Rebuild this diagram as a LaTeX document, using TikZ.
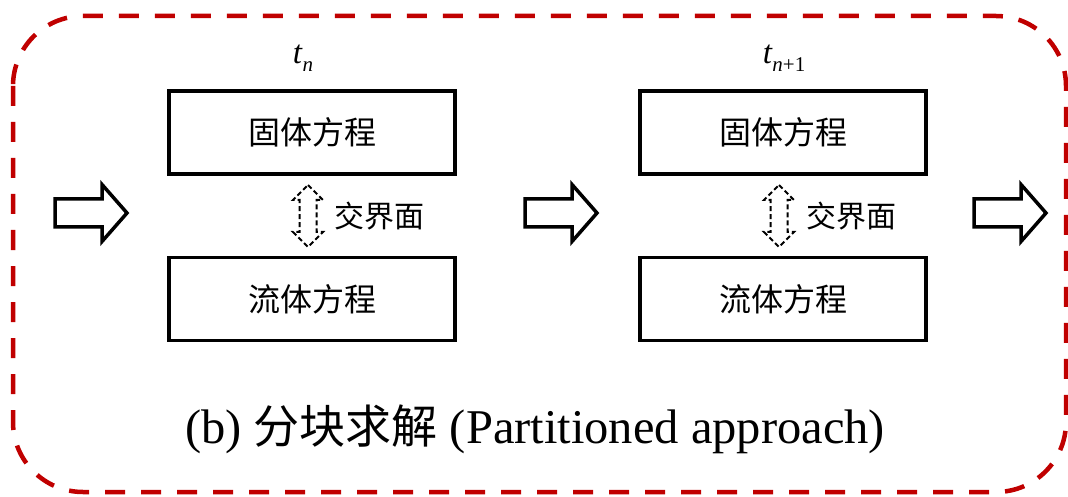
\documentclass[tikz,border=0pt]{standalone}
\usepackage{fontspec}
\setmainfont{Liberation Serif}
\newfontfamily\cjk{Noto Sans CJK SC}
\definecolor{framered}{RGB}{192,0,0}
\begin{document}
\begin{tikzpicture}[x=1pt,y=-1pt,
  eqbox/.style={draw, line width=3.5pt, minimum width=286pt, minimum height=83pt,
    inner sep=0pt, font=\cjk\fontsize{32}{36}\selectfont},
  iflabel/.style={inner sep=0pt, font=\cjk\fontsize{30}{34}\selectfont},
  timelabel/.style={inner sep=0pt, font=\fontsize{33}{36}\selectfont},
  pics/fatarrow/.style={code={
    \draw[line width=3.5pt, line join=miter, fill=white]
      (-36,-14) -- (11,-14) -- (11,-28.5) -- (36,0) -- (11,28.5) -- (11,14) -- (-36,14) -- cycle;}},
  pics/swaparrow/.style={code={
    \draw[line width=2pt, dash pattern=on 5pt off 3pt]
      (0,-31) -- (15,-16) -- (8.5,-16) -- (8.5,16) -- (15,16) -- (0,31)
      -- (-15,16) -- (-8.5,16) -- (-8.5,-16) -- (-15,-16) -- cycle;}}
]
\useasboundingbox (0,0) rectangle (1068,497);

% dashed outer frame
\draw[framered, line width=4.5pt, dash pattern=on 20pt off 16pt, rounded corners=70pt]
  (13,16) rectangle (1066,492);

% time step t_n
\node[timelabel] (tn) at (303,58) {\itshape t\kern0.5pt\raisebox{-8pt}{\fontsize{21}{21}\selectfont n}};
\node[eqbox] (s1) at (312,132.5) {固体方程};
\node[eqbox] (f1) at (312,299) {流体方程};
\pic at (308,216) {swaparrow};
\node[iflabel] (i1) at (379,216) {交界面};

% time step t_{n+1}
\node[timelabel] (tn1) at (784,58) {\itshape t\kern0.5pt\raisebox{-8pt}{\fontsize{21}{21}\selectfont n\upshape+1}};
\node[eqbox] (s2) at (783,132.5) {固体方程};
\node[eqbox] (f2) at (783,299) {流体方程};
\pic at (779,216) {swaparrow};
\node[iflabel] (i2) at (851,216) {交界面};

% marching arrows
\pic at (91,213) {fatarrow};
\pic at (561,213) {fatarrow};
\pic at (1010,213) {fatarrow};

% caption
\node[anchor=base, inner sep=0pt] (cap) at (535,443)
  {\fontsize{48.5}{54}\selectfont (b) {\cjk\fontsize{46}{54}\selectfont 分块求解} (Partitioned approach)};
\end{tikzpicture}
\end{document}
